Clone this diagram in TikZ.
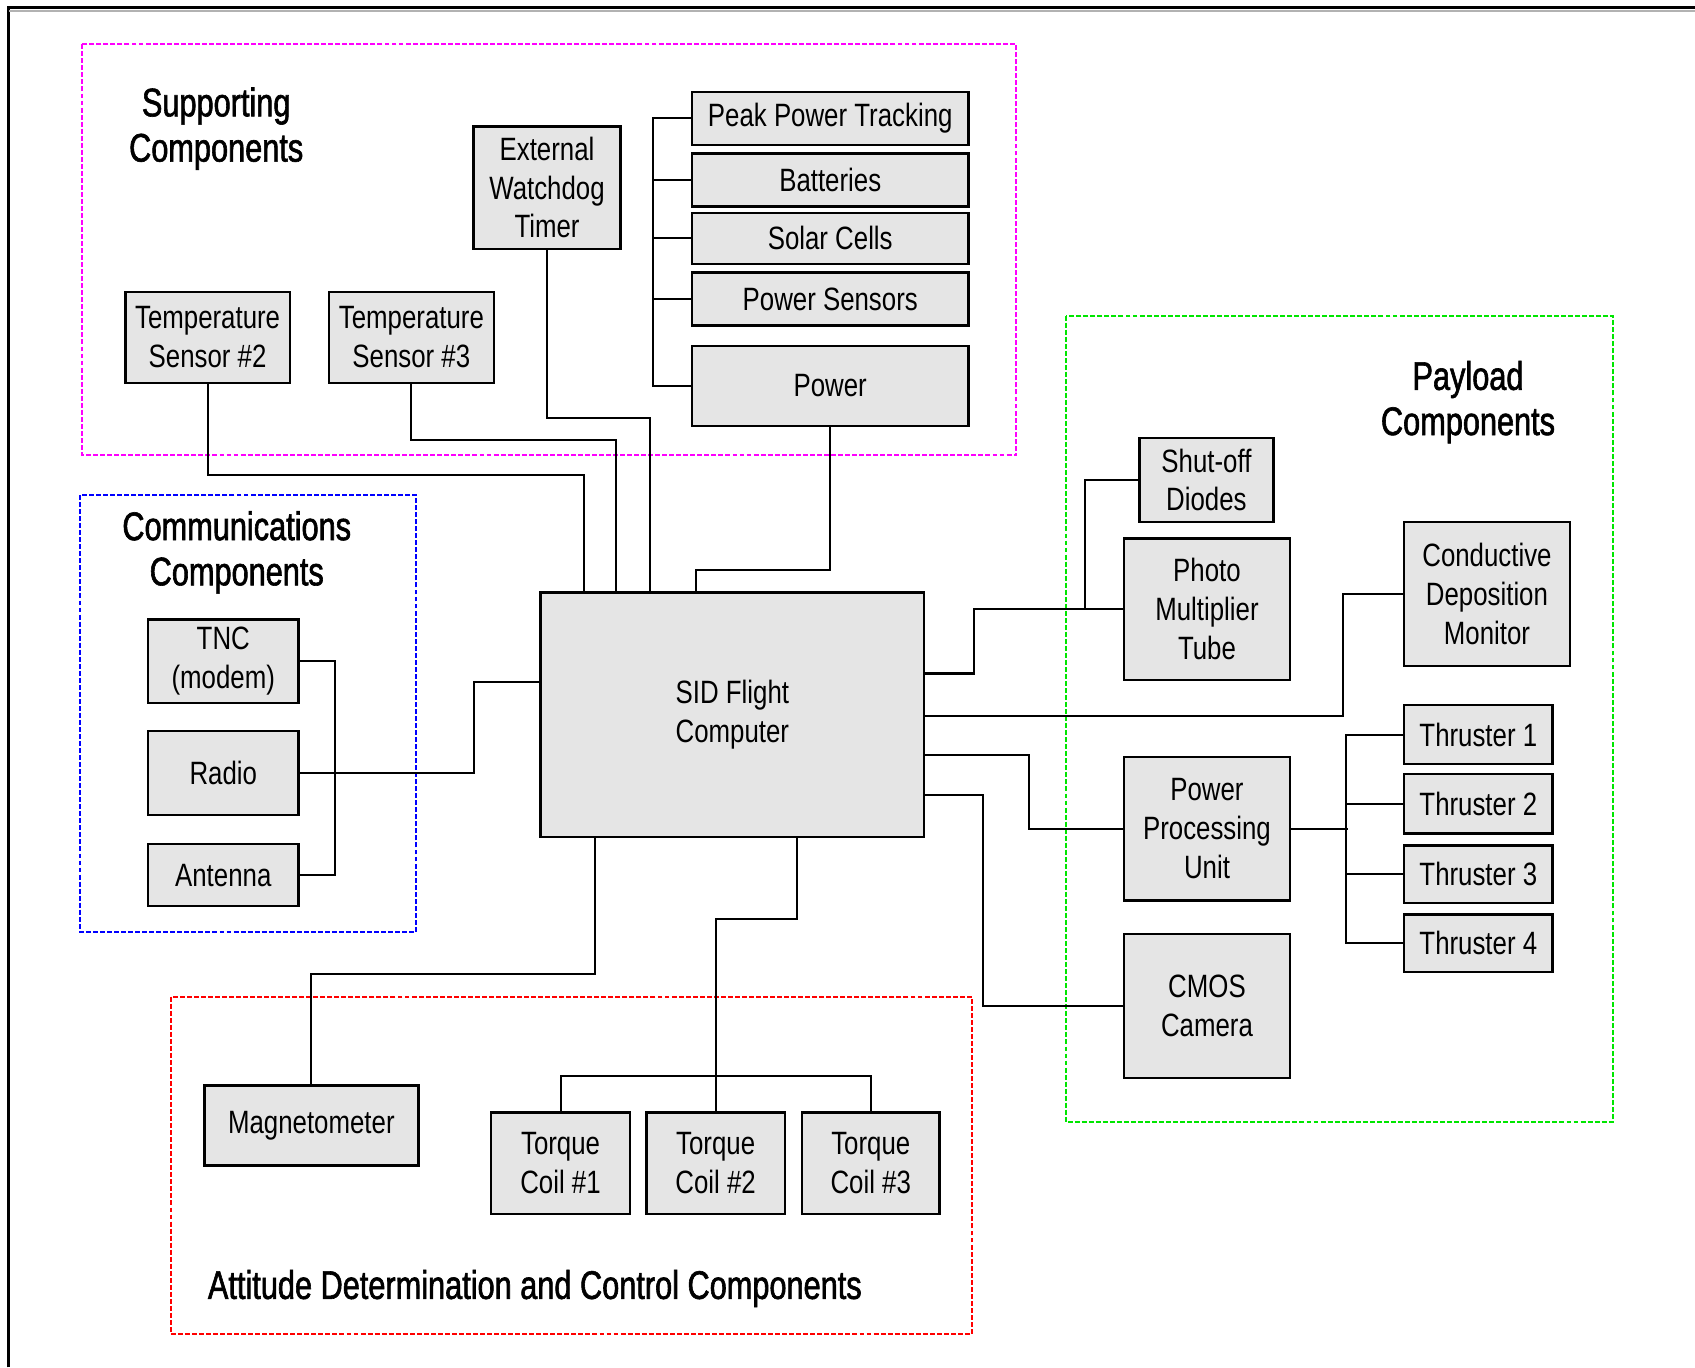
\documentclass[tikz,border=0pt]{standalone}
\usepackage{fontspec}
\setmainfont{Liberation Sans}
\newfontfamily\boxfont[FakeStretch=0.8]{Liberation Sans}
\newfontfamily\grpfont[FakeStretch=0.77,FakeBold=1.5]{Liberation Sans}
\definecolor{grpmag}{RGB}{255,0,255}
\definecolor{grpblue}{RGB}{0,0,255}
\definecolor{grpgreen}{RGB}{0,230,0}
\definecolor{grpred}{RGB}{255,0,0}
\begin{document}
\begin{tikzpicture}[x=0.02cm, y=-0.02cm,
  box/.style={draw=black, line width=1.2pt, fill=gray!20, anchor=north west,
    inner sep=1pt, align=center, font=\boxfont\fontsize{17}{20.4}\selectfont},
  grp/.style={font=\grpfont\fontsize{21}{23.8}\selectfont, align=center, inner sep=0pt},
  wire/.style={line width=1.1pt, black},
  grpframe/.style={line width=1pt, dash pattern=on 2.6pt off 1.1pt}]
\useasboundingbox (0,0) rectangle (1568,1265);
% outer frame
\draw[line width=1.3pt] (8,1265) -- (8,7) -- (1568,7);
\draw[line width=0.8pt, gray!60] (8,10) -- (1568,10);

% group frames
\draw[grpframe, grpmag] (76,41) rectangle (940,421);
\draw[grpframe, grpblue] (74,458) rectangle (385,862);
\draw[grpframe, grpgreen] (986,292) rectangle (1492,1038);
\draw[grpframe, grpred] (158,922) rectangle (899,1234);

% group labels
\node[grp] (lsup) at (200,119) {Supporting\\Components};
\node[grp] (lcom) at (219,511) {Communications\\Components};
\node[grp] (lpay) at (1358,372) {Payload\\Components};
\node[grp, anchor=west] (latt) at (192,1192) {Attitude Determination and Control Components};

% supporting components
\node[box, minimum width=2.72cm, minimum height=2.26cm] (wdt) at (437,116) {External\\Watchdog\\Timer};
\node[box, minimum width=3.04cm, minimum height=1.68cm] (ts2) at (115,269) {Temperature\\Sensor \#2};
\node[box, minimum width=3.06cm, minimum height=1.68cm] (ts3) at (303,269) {Temperature\\Sensor \#3};
\node[box, minimum width=5.12cm, minimum height=0.98cm] (ppt) at (639,84) {Peak Power Tracking};
\node[box, minimum width=5.12cm, minimum height=0.98cm] (bat) at (639,141) {Batteries};
\node[box, minimum width=5.12cm, minimum height=0.94cm] (sol) at (639,196) {Solar Cells};
\node[box, minimum width=5.12cm, minimum height=0.98cm] (psen) at (639,251) {Power Sensors};
\node[box, minimum width=5.12cm, minimum height=1.48cm] (pwr) at (639,319) {Power};

% communications
\node[box, minimum width=2.78cm, minimum height=1.54cm] (tnc) at (136,572) {TNC\\(modem)};
\node[box, minimum width=2.78cm, minimum height=1.56cm] (radio) at (136,675) {Radio};
\node[box, minimum width=2.78cm, minimum height=1.14cm] (ant) at (136,780) {Antenna};

% flight computer
\node[box, minimum width=7.10cm, minimum height=4.52cm] (sid) at (499,547) {SID Flight\\Computer};

% payload
\node[box, minimum width=2.48cm, minimum height=1.56cm] (sod) at (1053,404) {Shut-off\\Diodes};
\node[box, minimum width=3.06cm, minimum height=2.62cm] (pmt) at (1039,497) {Photo\\Multiplier\\Tube};
\node[box, minimum width=3.06cm, minimum height=2.66cm] (cdm) at (1298,482) {Conductive\\Deposition\\Monitor};
\node[box, minimum width=2.74cm, minimum height=1.10cm] (th1) at (1298,651) {Thruster 1};
\node[box, minimum width=2.74cm, minimum height=1.10cm] (th2) at (1298,715) {Thruster 2};
\node[box, minimum width=2.74cm, minimum height=1.06cm] (th3) at (1298,781) {Thruster 3};
\node[box, minimum width=2.74cm, minimum height=1.06cm] (th4) at (1298,845) {Thruster 4};
\node[box, minimum width=3.06cm, minimum height=2.66cm] (ppu) at (1039,699) {Power\\Processing\\Unit};
\node[box, minimum width=3.06cm, minimum height=2.66cm] (cmos) at (1039,863) {CMOS\\Camera};

% attitude
\node[box, minimum width=3.96cm, minimum height=1.48cm] (mag) at (188,1003) {Magnetometer};
\node[box, minimum width=2.58cm, minimum height=1.88cm] (tc1) at (453,1028) {Torque\\Coil \#1};
\node[box, minimum width=2.56cm, minimum height=1.88cm] (tc2) at (597,1028) {Torque\\Coil \#2};
\node[box, minimum width=2.54cm, minimum height=1.88cm] (tc3) at (741,1028) {Torque\\Coil \#3};

% connectors: supporting
\draw[wire] (ts2.south) -- ++(0,84) -| ([xshift=0.82cm]sid.north west);
\draw[wire] (ts3.south) -- ++(0,52) -| ([xshift=1.42cm]sid.north west);
\draw[wire] (wdt.south) -- ++(0,156) -| ([xshift=2.04cm]sid.north west);
\draw[wire] (pwr.south) -- ++(0,132) -| ([xshift=2.90cm]sid.north west);
\draw[wire] (ppt.west) -- ++(-35,0) |- (pwr.west);
\draw[wire] (bat.west) -- ++(-35,0);
\draw[wire] (sol.west) -- ++(-35,0);
\draw[wire] (psen.west) -- ++(-35,0);

% connectors: communications
\draw[wire] (tnc.east) -- ++(33,0) |- (ant.east);
\draw[wire] (radio.east) -- ++(161,0) |- ([yshift=0.6cm]sid.west);

% connectors: payload
\draw[wire] ([yshift=0.76cm]sid.east) -- ++(45,0) |- (pmt.west);
\draw[wire] (sod.west) -- ++(-49,0) |- (pmt.west);
\draw[wire] ([yshift=-0.02cm]sid.east) -- ++(386,0) |- (cdm.west);
\draw[wire] ([yshift=-0.74cm]sid.east) -- ++(96,0) |- (ppu.west);
\draw[wire] ([yshift=-1.48cm]sid.east) -- ++(53,0) |- (cmos.west);
\draw[wire] (ppu.east) -- ++(53,0);
\draw[wire] (th1.west) -- ++(-53,0) |- (th4.west);
\draw[wire] (th2.west) -- ++(-53,0);
\draw[wire] (th3.west) -- ++(-53,0);

% connectors: attitude
\draw[wire] ([xshift=1.02cm]sid.south west) -- ++(0,126) -| (mag.north);
\draw[wire] ([xshift=4.76cm]sid.south west) -- ++(0,75) -| (tc2.north);
\draw[wire] (tc1.north) -- ++(0,-33) -| (tc3.north);
\end{tikzpicture}
\end{document}
